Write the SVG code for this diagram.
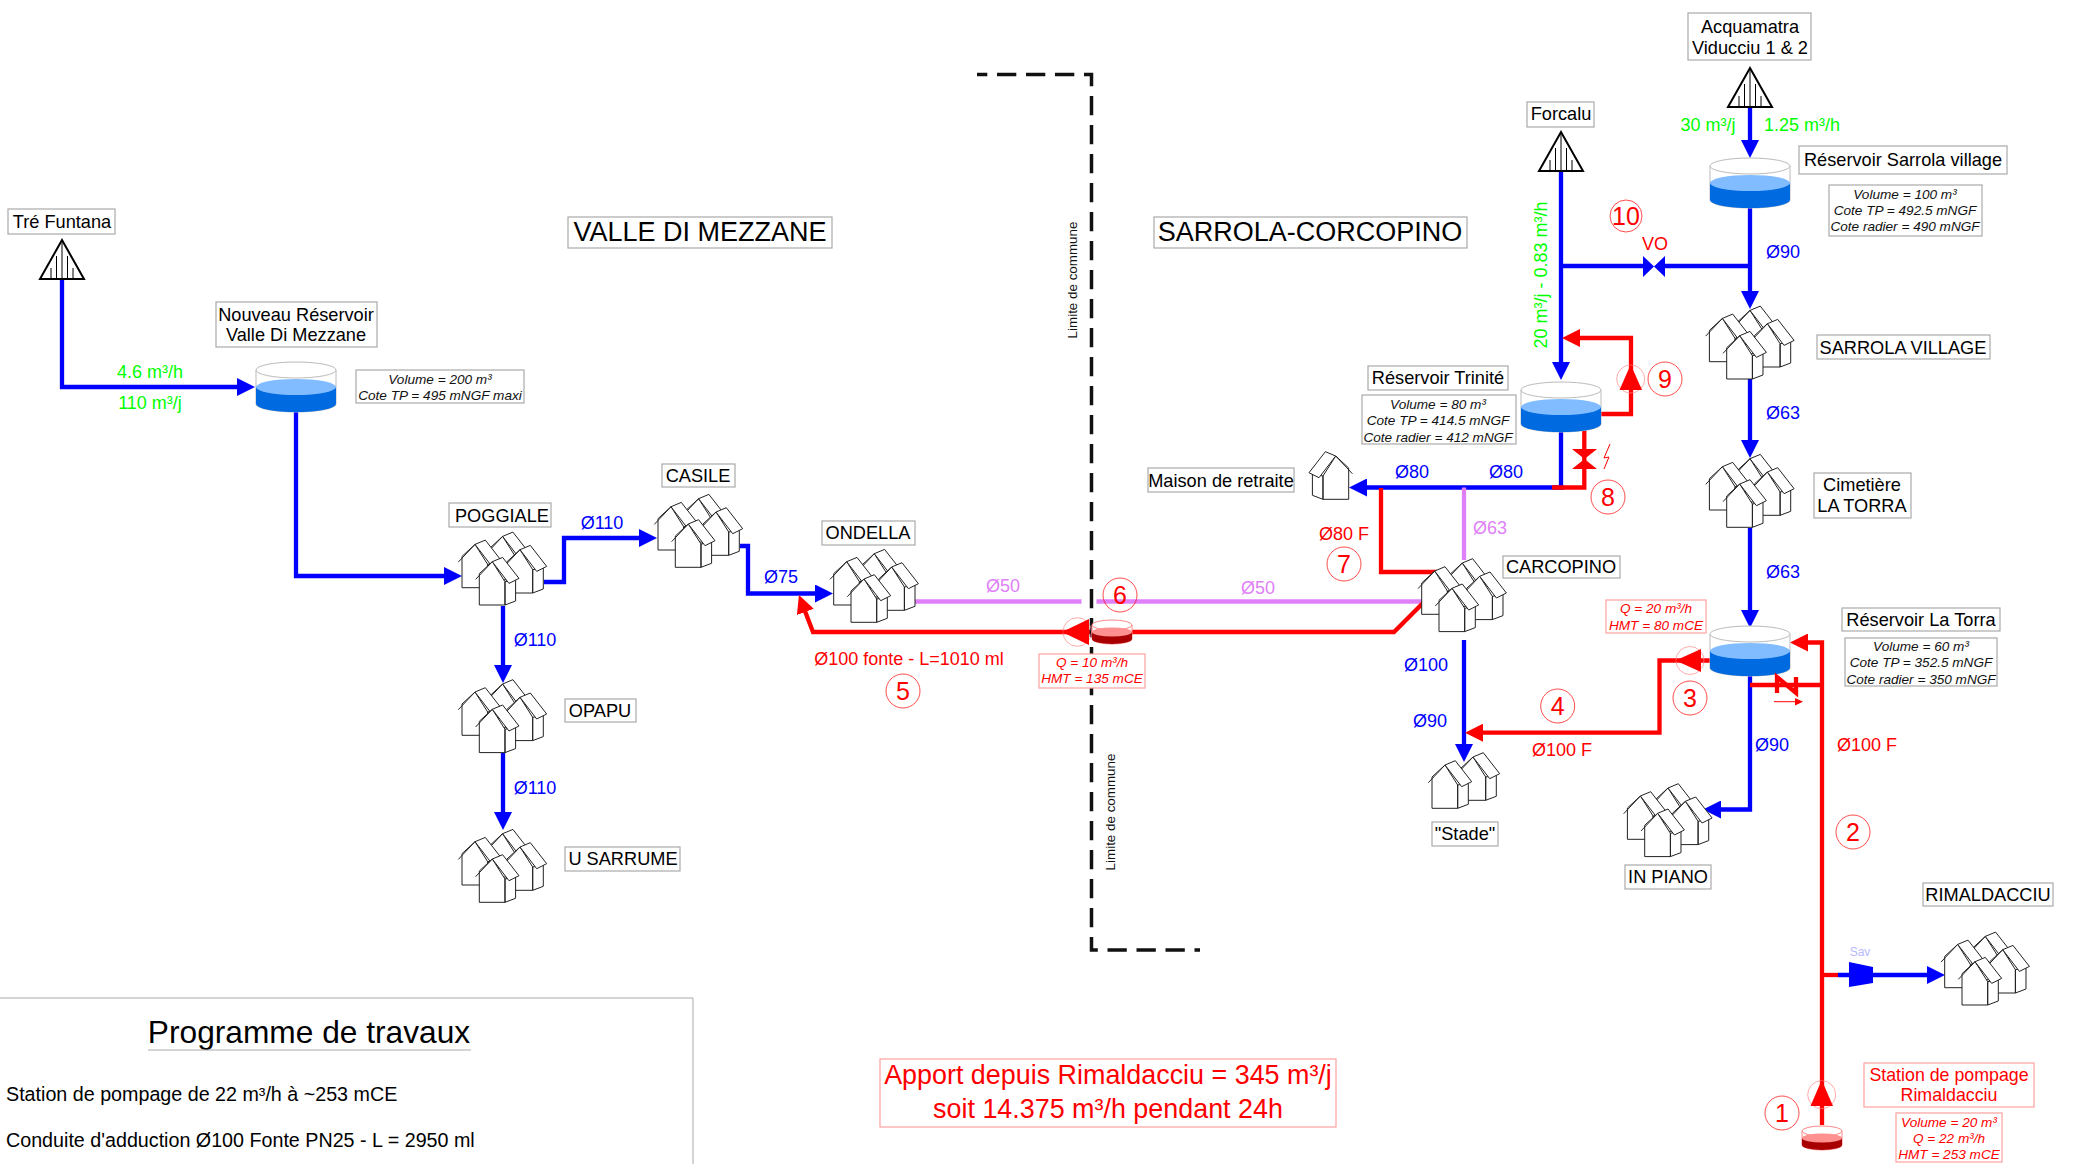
<svg xmlns="http://www.w3.org/2000/svg" width="2076" height="1164" viewBox="0 0 2076 1164">
<style>
text{font-family:"Liberation Sans",Arial,sans-serif;text-anchor:middle}
.lb{fill:#fff;stroke:#aaa;stroke-width:1.2}
.rb{fill:#fff;stroke:#ffa0a0;stroke-width:1.2}
.t{font-size:18.200px;fill:#000}
.r2{font-size:17.800px;fill:#f00}
.i{font-size:13.600px;font-style:italic;fill:#111}
.ri{font-size:13.600px;font-style:italic;fill:#f00}
.bl{font-size:18px;fill:#00f}
.re{font-size:18px;fill:#f00}
.gr{font-size:18px;fill:#0f0}
.pu{font-size:18px;fill:#e080f8}
.n{font-size:25px;fill:#f00}
.c{fill:none;stroke:#f00;stroke-width:.7}
.pc{fill:none;stroke:#f88;stroke-width:.7}
.pb{fill:none;stroke:#00f;stroke-width:4.300}
.pr{fill:none;stroke:#f00;stroke-width:4.300}
.pp{fill:none;stroke:#e080f8;stroke-width:4.300}
.hf{fill:#fff;stroke:#222;stroke-width:1;stroke-linejoin:miter}
</style>
<defs>
<g id="house">
<path class="hf" d="M-13,12V43.300H12.700V20L0,0ZM12.700,43.300L23.300,39.300V18L12.700,20Z"/>
<path class="hf" d="M-16.700,17.700L0,0L10.300,-4.300L26.700,16.700L16.700,21.700L0,0"/>
</g>
<g id="cluster">
<use href="#house" x="10.300" y="-25.300"/>
<use href="#house" x="27.700" y="-12"/>
<use href="#house" x="-17.300" y="-17.300"/>
<use href="#house"/>
</g>
<g id="src">
<path d="M0,0L22,39H-22Z" fill="#fff" stroke="#000" stroke-width="2"/>
<path d="M0,0V39M-11,28V39M-5.500,16V39M5.500,16V39M11,28V39" stroke="#000" stroke-width="1" fill="none"/>
</g>
<g id="res">
<path d="M-40,0V34A40,8 0 0 0 40,34V0" fill="#fff" stroke="#bbb"/>
<ellipse cx="0" cy="0" rx="40" ry="8" fill="#fff" stroke="#bbb"/>
<path d="M-40,17V34A40,8 0 0 0 40,34V17Z" fill="#006ae0"/>
<ellipse cx="0" cy="17" rx="40" ry="8" fill="#80bcff"/>
</g>
<g id="resr">
<path d="M-20,0V14A20,5 0 0 0 20,14V0" fill="#fff" stroke="#f88"/>
<ellipse cx="0" cy="0" rx="20" ry="5" fill="#fff" stroke="#f88"/>
<path d="M-20,7V14A20,5 0 0 0 20,14V7Z" fill="#a80000"/>
<ellipse cx="0" cy="7" rx="20" ry="4.500" fill="#ff9090"/>
</g>
<marker id="ab" markerUnits="userSpaceOnUse" markerWidth="18" markerHeight="18" refX="8" refY="9" orient="auto"><path d="M0,0L18,9L0,18Z" fill="#00f"/></marker>
<marker id="ar" markerUnits="userSpaceOnUse" markerWidth="18" markerHeight="18" refX="8" refY="9" orient="auto"><path d="M0,0L18,9L0,18Z" fill="#f00"/></marker>
</defs>

<g id="connectors">
<path class="pb" d="M62,279V387H245" marker-end="url(#ab)"/>
<path class="pb" d="M296,405V576H452" marker-end="url(#ab)"/>
<path class="pb" d="M544,582H564V538H647" marker-end="url(#ab)"/>
<path class="pb" d="M503,606V673" marker-end="url(#ab)"/>
<path class="pb" d="M503,753V820" marker-end="url(#ab)"/>
<path class="pb" d="M740,546H748V593.500H823" marker-end="url(#ab)"/>
<path class="pp" d="M915,601.500H1081.500"/>
<path class="pp" d="M1096.500,601.500H1424"/>
<path class="pr" d="M1424,602L1394,632H813L802.500,604.400" marker-end="url(#ar)"/>
<path class="pb" d="M1564,487.500H1359" marker-end="url(#ab)"/>
<path class="pp" d="M1464,487.500V560"/>
<path class="pr" d="M1437,572H1381V488"/>
<path class="pb" d="M1464,640V752" marker-end="url(#ab)"/>
<path class="pb" d="M1561,170V370" marker-end="url(#ab)"/>
<path class="pb" d="M1561,266H1645"/>
<path class="pb" d="M1750,266H1663"/>
<path class="pb" d="M1750,106V148" marker-end="url(#ab)"/>
<path class="pb" d="M1750,206V299" marker-end="url(#ab)"/>
<path class="pb" d="M1750,378V448" marker-end="url(#ab)"/>
<path class="pb" d="M1750,528V618" marker-end="url(#ab)"/>
<path class="pb" d="M1750,675V809.500H1713" marker-end="url(#ab)"/>
<path class="pb" d="M1561,425V487"/>
<path class="pr" d="M1580,400H1584.300V487.500H1552"/>
<path class="pr" d="M1601,414H1631V338H1572" marker-end="url(#ar)"/>
<path class="pr" d="M1710,660.500H1659.500V732.700H1475" marker-end="url(#ar)"/>
<path class="pr" d="M1822,1125V642.500H1800" marker-end="url(#ar)"/>
<path class="pr" d="M1750,685H1822"/>
<path class="pr" d="M1822,975H1838"/>
<path class="pb" d="M1838,975H1935" marker-end="url(#ab)"/>
</g>

<g id="limite" fill="none" stroke="#111" stroke-width="3.500">
<path d="M977,74.500H1091.500V950H1200" stroke-dasharray="19.300,9.700" stroke-dashoffset="9"/>
</g>
<text transform="translate(1077,280) rotate(-90)" font-size="13.400" fill="#111">Limite de commune</text>
<text transform="translate(1115,812) rotate(-90)" font-size="13.400" fill="#111">Limite de commune</text>

<g id="n-trefuntana"><use href="#src" x="62" y="240"/><rect class="lb" x="8" y="209" width="107" height="25"/><text class="t" x="62" y="228">Tré Funtana</text></g>
<g id="n-nouveau"><use href="#res" x="296" y="370"/><rect class="lb" x="216" y="302" width="161" height="45"/><text class="t" x="296" y="321">Nouveau Réservoir</text><text class="t" x="296" y="341">Valle Di Mezzane</text>
<rect class="lb" x="356" y="370" width="168" height="33"/><text class="i" x="440" y="384">Volume = 200 m³</text><text class="i" x="440" y="400">Cote TP = 495 mNGF maxi</text></g>
<g id="n-poggiale"><use href="#cluster" x="492.300" y="561.700"/><rect class="lb" x="449" y="503" width="102" height="24"/><text class="t" x="502" y="522">POGGIALE</text></g>
<g id="n-casile"><use href="#cluster" x="688.300" y="524"/><rect class="lb" x="662" y="464" width="73" height="23"/><text class="t" x="698" y="482">CASILE</text></g>
<g id="n-ondella"><use href="#cluster" x="864" y="579"/><rect class="lb" x="822" y="521" width="93" height="24"/><text class="t" x="868" y="539">ONDELLA</text></g>
<g id="n-opapu"><use href="#cluster" x="492.300" y="709.300"/><rect class="lb" x="565" y="699" width="71" height="23"/><text class="t" x="600" y="717">OPAPU</text></g>
<g id="n-sarrume"><use href="#cluster" x="492.300" y="859"/><rect class="lb" x="565" y="847" width="115" height="24"/><text class="t" x="623" y="865">U SARRUME</text></g>
<g id="n-retraite"><use href="#house" transform="translate(1335.700,456) scale(-1,1)"/><rect class="lb" x="1148" y="468" width="146" height="24"/><text class="t" x="1221" y="487">Maison de retraite</text></g>
<g id="n-carcopino"><use href="#cluster" x="1452" y="588.300"/><rect class="lb" x="1503" y="556" width="117" height="22"/><text class="t" x="1561" y="573">CARCOPINO</text></g>
<g id="n-stade"><use href="#house" x="1473" y="757"/><use href="#house" x="1445" y="765"/><rect class="lb" x="1432" y="822" width="66" height="24"/><text class="t" x="1465" y="840">"Stade"</text></g>
<g id="n-trinite"><use href="#res" x="1561" y="390"/><rect class="lb" x="1368" y="366" width="140" height="24"/><text class="t" x="1438" y="384">Réservoir Trinité</text>
<rect class="lb" x="1362" y="395" width="154" height="49"/><text class="i" x="1438" y="409">Volume = 80 m³</text><text class="i" x="1438" y="425">Cote TP = 414.5 mNGF</text><text class="i" x="1438" y="442">Cote radier = 412 mNGF</text></g>
<g id="n-forcalu"><use href="#src" x="1561" y="132"/><rect class="lb" x="1527" y="102" width="67" height="25"/><text class="t" x="1561" y="120">Forcalu</text></g>
<g id="n-acquamatra"><use href="#src" x="1750" y="68"/><rect class="lb" x="1688" y="13" width="123" height="47"/><text class="t" x="1750" y="33">Acquamatra</text><text class="t" x="1750" y="54">Viducciu 1 &amp; 2</text></g>
<g id="n-sarrola-res"><use href="#res" x="1750" y="166"/><rect class="lb" x="1799" y="146" width="208" height="28"/><text class="t" x="1903" y="166">Réservoir Sarrola village</text>
<rect class="lb" x="1829" y="185" width="153" height="51"/><text class="i" x="1905" y="199">Volume = 100 m³</text><text class="i" x="1905" y="215">Cote TP = 492.5 mNGF</text><text class="i" x="1905" y="231">Cote radier = 490 mNGF</text></g>
<g id="n-sarrola"><use href="#cluster" x="1739.700" y="335.700"/><rect class="lb" x="1817" y="335" width="173" height="24"/><text class="t" x="1903" y="354">SARROLA VILLAGE</text></g>
<g id="n-cimetiere"><use href="#cluster" x="1739.700" y="484"/><rect class="lb" x="1814" y="473" width="97" height="45"/><text class="t" x="1862" y="491">Cimetière</text><text class="t" x="1862" y="512">LA TORRA</text></g>
<g id="n-torra"><use href="#res" x="1750" y="634"/><rect class="lb" x="1842" y="608" width="158" height="23"/><text class="t" x="1921" y="626">Réservoir La Torra</text>
<rect class="lb" x="1845" y="638" width="152" height="48"/><text class="i" x="1921" y="651">Volume = 60 m³</text><text class="i" x="1921" y="667">Cote TP = 352.5 mNGF</text><text class="i" x="1921" y="684">Cote radier = 350 mNGF</text></g>
<g id="n-inpiano"><use href="#cluster" x="1657.700" y="813.300"/><rect class="lb" x="1625" y="865" width="86" height="24"/><text class="t" x="1668" y="883">IN PIANO</text></g>
<g id="n-rimaldacciu"><use href="#cluster" x="1975" y="961.700"/><rect class="lb" x="1923" y="883" width="130" height="23"/><text class="t" x="1988" y="901">RIMALDACCIU</text></g>
<g id="n-station"><use href="#resr" x="1822" y="1131"/><rect class="rb" x="1864" y="1063" width="170" height="44"/><text class="r2" x="1949" y="1081">Station de pompage</text><text class="r2" x="1949" y="1101">Rimaldacciu</text>
<rect class="rb" x="1896" y="1113" width="106" height="49"/><text class="ri" x="1949" y="1127">Volume = 20 m³</text><text class="ri" x="1949" y="1143">Q = 22 m³/h</text><text class="ri" x="1949" y="1159">HMT = 253 mCE</text></g>
<g id="n-station6"><use href="#resr" x="1112" y="625"/><rect class="rb" x="1039" y="654" width="106" height="34"/><text class="ri" x="1092" y="667">Q = 10 m³/h</text><text class="ri" x="1092" y="683">HMT = 135 mCE</text></g>

<g id="equipment">
<circle class="pc" cx="1077.300" cy="632" r="14.300"/><path d="M1062,632L1089,619V645Z" fill="#f00"/>
<path d="M1643,256V277L1665,256V277Z" fill="#00f"/>
<path d="M1572,449H1597L1584.500,459L1597,469H1572L1584.500,459Z" fill="#f00"/>
<path d="M1610,444L1604,458L1609,457L1604,469" fill="none" stroke="#f00"/>
<circle class="pc" cx="1630.700" cy="379" r="14"/><path d="M1630.700,364.500L1642,390H1619.500Z" fill="#f00"/>
<circle class="pc" cx="1690" cy="660.500" r="14"/><path d="M1675.500,660.500L1701,649V672Z" fill="#f00"/>
<path class="pr" d="M1777,693V677L1796,693V677"/>
<path d="M1774,701.700H1798" stroke="#f00"/><path d="M1795,698L1803,701.700L1795,705.500Z" fill="#f00"/>
<circle class="pc" cx="1821.700" cy="1094.700" r="14"/><path d="M1821.700,1080L1833,1106H1810.500Z" fill="#f00"/>
<path d="M1849,962L1873,967V983L1849,987Z" fill="#00f"/>
<text x="1860" y="956" font-size="12" fill="#b8b8ff">Sav</text>
</g>

<g id="labels">
<text class="gr" x="150" y="378">4.6 m³/h</text><text class="gr" x="150" y="409">110 m³/j</text>
<text class="bl" x="602" y="529">Ø110</text><text class="bl" x="535" y="646">Ø110</text><text class="bl" x="535" y="794">Ø110</text><text class="bl" x="781" y="583">Ø75</text>
<text class="pu" x="1003" y="592">Ø50</text><text class="pu" x="1258" y="594">Ø50</text>
<text class="re" x="909" y="665">Ø100 fonte - L=1010 ml</text>
<text class="bl" x="1412" y="478">Ø80</text><text class="bl" x="1506" y="478">Ø80</text>
<text class="re" x="1344" y="540">Ø80 F</text><text class="pu" x="1490" y="534">Ø63</text>
<text class="bl" x="1426" y="671">Ø100</text><text class="bl" x="1430" y="727">Ø90</text>
<text class="re" x="1562" y="756">Ø100 F</text>
<text class="bl" x="1783" y="258">Ø90</text><text class="bl" x="1783" y="419">Ø63</text><text class="bl" x="1783" y="578">Ø63</text>
<text class="bl" x="1772" y="751">Ø90</text><text class="re" x="1867" y="751">Ø100 F</text>
<text class="gr" x="1708" y="131">30 m³/j</text><text class="gr" x="1802" y="131">1.25 m³/h</text>
<text class="gr" transform="translate(1547,275) rotate(-90)">20 m³/j - 0.83 m³/h</text>
<text class="re" x="1655" y="250">VO</text>
<g id="bubbles">
<circle class="c" cx="903" cy="691" r="17"/><text class="n" x="903" y="700">5</text>
<circle class="c" cx="1120" cy="595" r="17"/><text class="n" x="1120" y="604">6</text>
<circle class="c" cx="1344" cy="564" r="17"/><text class="n" x="1344" y="573">7</text>
<circle class="c" cx="1608" cy="497" r="17"/><text class="n" x="1608" y="506">8</text>
<circle class="c" cx="1665" cy="379" r="17"/><text class="n" x="1665" y="388">9</text>
<circle class="c" cx="1626" cy="216" r="16"/><text class="n" x="1626" y="225">10</text>
<circle class="c" cx="1690" cy="698" r="17"/><text class="n" x="1690" y="707">3</text>
<circle class="c" cx="1557.700" cy="706" r="17"/><text class="n" x="1557.700" y="715">4</text>
<circle class="c" cx="1853" cy="832" r="17"/><text class="n" x="1853" y="841">2</text>
<circle class="c" cx="1782" cy="1113" r="17"/><text class="n" x="1782" y="1122">1</text>
</g>
<rect class="rb" x="1606" y="600" width="100" height="33"/><text class="ri" x="1656" y="613">Q = 20 m³/h</text><text class="ri" x="1656" y="630">HMT = 80 mCE</text>
<rect class="lb" x="568" y="217" width="264" height="31"/><text x="700" y="241" font-size="27" fill="#000">VALLE DI MEZZANE</text>
<rect class="lb" x="1154" y="217" width="313" height="31"/><text x="1310" y="241" font-size="27" fill="#000">SARROLA-CORCOPINO</text>
<rect class="rb" x="880" y="1059" width="456" height="68"/><text x="1108" y="1084" font-size="26.900" fill="#f00">Apport depuis Rimaldacciu = 345 m³/j</text><text x="1108" y="1118" font-size="26.900" fill="#f00">soit 14.375 m³/h pendant 24h</text>
</g>
<g id="programme">
<path d="M0,998H693V1164" fill="none" stroke="#aaa"/>
<text x="309" y="1043" font-size="31.700" fill="#000">Programme de travaux</text>
<path d="M148,1050H471" stroke="#aaa" fill="none"/>
<text x="6" y="1101" font-size="19.700" fill="#000" style="text-anchor:start">Station de pompage de 22 m³/h à ~253 mCE</text>
<text x="6" y="1147" font-size="19.700" fill="#000" style="text-anchor:start">Conduite d'adduction Ø100 Fonte PN25 - L = 2950 ml</text>
</g>
</svg>
